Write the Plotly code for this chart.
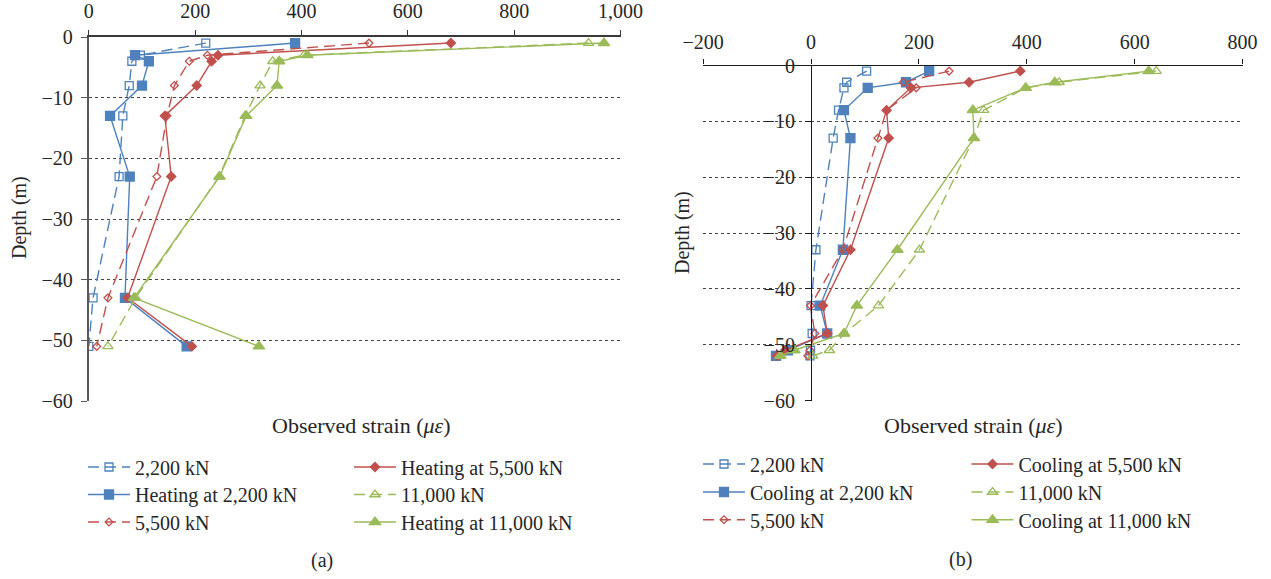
import plotly.graph_objects as go

W, H = 1271, 579

# ---------------- data: panel (a) ----------------
depth_a = [-1, -3, -4, -8, -13, -23, -43, -51]
a_2200 = [220, 97, 81, 76, 64, 57, 8, 0]
a_heat_2200 = [388, 87, 113, 100, 40, 77, 68, 184]
a_5500 = [527, 223, 189, 161, 147, 128, 36, 15]
a_heat_5500 = [681, 243, 231, 203, 143, 155, 73, 194]
a_11000 = [940, 405, 346, 322, 294, 245, 88, 36]
a_heat_11000 = [969, 411, 358, 354, 296, 246, 85, 320]

# ---------------- data: panel (b) ----------------
depth_b = [-1, -3, -4, -8, -13, -33, -43, -48, -51, -52]
b_2200 = [103, 66, 61, 51, 41, 9, 0, 2, -1, -2]
b_cool_2200 = [219, 176, 105, 61, 73, 59, 17, 30, -43, -65]
b_5500 = [256, 171, 195, 140, 124, 59, -1, 7, -2, -6]
b_cool_5500 = [388, 293, 185, 140, 144, 73, 22, 30, -48, -63]
b_11000 = [640, 460, 398, 320, 302, 201, 125, 62, 34, 3]
b_cool_11000 = [626, 452, 398, 300, 302, 160, 85, 61, -31, -57]

labels_a = ["2,200 kN", "Heating at 2,200 kN", "5,500 kN",
            "Heating at 5,500 kN", "11,000 kN", "Heating at 11,000 kN"]
labels_b = ["2,200 kN", "Cooling at 2,200 kN", "5,500 kN",
            "Cooling at 5,500 kN", "11,000 kN", "Cooling at 11,000 kN"]

xticks_a = [0, 200, 400, 600, 800, 1000]
xticks_b = [-200, 0, 200, 400, 600, 800]
yticks = [0, -10, -20, -30, -40, -50, -60]

BLUE = "#4F81BD"
RED = "#C0504D"
GREEN = "#9BBB59"
TXT = "#262626"
FONT = "Liberation Serif, Times New Roman, serif"

# style specs: (color, dashed, symbol, size)
styles = [
    (BLUE, True, "square-open", 8),
    (BLUE, False, "square", 9),
    (RED, True, "diamond-open", 6),
    (RED, False, "diamond", 7),
    (GREEN, True, "triangle-up-open", 9),
    (GREEN, False, "triangle-up", 10),
]

def px_x(p):
    return p / W

def px_y(p):
    return 1 - p / H

# legend slot positions (left x, top y) in pixels: 3 rows x 2 columns per panel
rows_a = [447.5, 475, 502.5]
rows_b = [444.5, 472.5, 500.3]
cols_a = [83, 349]
cols_b = [698, 966.5]
slots_a = [(cols_a[0], rows_a[0]), (cols_a[0], rows_a[1]), (cols_a[0], rows_a[2]),
           (cols_a[1], rows_a[0]), (cols_a[1], rows_a[1]), (cols_a[1], rows_a[2])]
slots_b = [(cols_b[0], rows_b[0]), (cols_b[0], rows_b[1]), (cols_b[0], rows_b[2]),
           (cols_b[1], rows_b[0]), (cols_b[1], rows_b[1]), (cols_b[1], rows_b[2])]

fig = go.Figure()

series_a = [a_2200, a_heat_2200, a_5500, a_heat_5500, a_11000, a_heat_11000]
series_b = [b_2200, b_cool_2200, b_5500, b_cool_5500, b_11000, b_cool_11000]

legend_common = dict(font=dict(family=FONT, size=20, color=TXT),
                     bgcolor="rgba(0,0,0,0)", borderwidth=0,
                     xanchor="left", yanchor="top", itemwidth=42,
                     tracegroupgap=0)
legend_layout = {}

n = 0
for panel, (series, labels, slots, xa, ya, depth) in enumerate([
        (series_a, labels_a, slots_a, "x", "y", depth_a),
        (series_b, labels_b, slots_b, "x2", "y2", depth_b)]):
    for i, (vals, name) in enumerate(zip(series, labels)):
        n += 1
        lid = "legend" if n == 1 else f"legend{n}"
        c, dashed, sym, sz = styles[i]
        fig.add_trace(go.Scatter(
            x=vals, y=depth, name=name, mode="lines+markers",
            line=dict(color=c, width=1.4, dash="11px,6px" if dashed else "solid"),
            marker=dict(symbol=sym, size=sz, color=c, line=dict(color=c, width=1.3)),
            xaxis=xa, yaxis=ya, legend=lid,
        ))
        lx, ly = slots[i]
        legend_layout[lid] = dict(x=px_x(lx), y=px_y(ly), **legend_common)

tickfont = dict(family=FONT, size=20, color=TXT)

xa_common = dict(side="top", showline=True, ticks="outside", ticklen=5,
                 showgrid=False, zeroline=False, tickformat=",",
                 tickfont=tickfont, automargin=False)
ya_common = dict(showline=True, ticks="outside", ticklen=6,
                 tickvals=yticks, showgrid=True, gridcolor="#444",
                 griddash="dot", gridwidth=1.3, zeroline=False,
                 tickfont=tickfont, range=[-60, 0], automargin=False)

fig.update_layout(
    width=W, height=H, autosize=False,
    margin=dict(l=0, r=0, t=0, b=0, autoexpand=False),
    paper_bgcolor="white", plot_bgcolor="white",
    font=dict(family=FONT, size=20, color=TXT),
    xaxis=dict(domain=[px_x(88.8), px_x(620.5)], range=[0, 1000], anchor="y",
               tickvals=xticks_a, linecolor="#3a3a3a", tickcolor="#3a3a3a",
               linewidth=1.6, ticklabelstandoff=4, **xa_common),
    yaxis=dict(domain=[px_y(401), px_y(37)], anchor="x",
               linecolor="#5a5a5a", tickcolor="#5a5a5a", linewidth=2,
               ticklabelstandoff=4, **ya_common),
    xaxis2=dict(domain=[px_x(703.2), px_x(1242.5)], range=[-200, 800], anchor="y2",
                tickvals=xticks_b, linecolor="#1a1a1a", tickcolor="#1a1a1a",
                linewidth=1.4, ticklabelstandoff=2, **xa_common),
    yaxis2=dict(domain=[px_y(400.5), px_y(65.5)], anchor="free",
                position=px_x(811.1),
                linecolor="#1a1a1a", tickcolor="#1a1a1a", linewidth=1.4,
                ticklabelstandoff=6, **ya_common),
    showlegend=True,
    **legend_layout,
)

annots = [
    dict(text="Observed strain (<i>με</i>)", x=px_x(361.5), y=px_y(425), size=22),
    dict(text="Observed strain (<i>με</i>)", x=px_x(973), y=px_y(425), size=22),
    dict(text="Depth (m)", x=px_x(20), y=px_y(218), textangle=-90, size=20),
    dict(text="Depth (m)", x=px_x(682), y=px_y(233), textangle=-90, size=20),
    dict(text="(a)", x=px_x(322), y=px_y(560), size=20),
    dict(text="(b)", x=px_x(960), y=px_y(559), size=20),
]
for a in annots:
    sz = a.pop("size")
    fig.add_annotation(xref="paper", yref="paper", showarrow=False,
                       xanchor="center", yanchor="middle",
                       font=dict(family=FONT, size=sz, color=TXT), **a)

fig.write_html("out.html")
